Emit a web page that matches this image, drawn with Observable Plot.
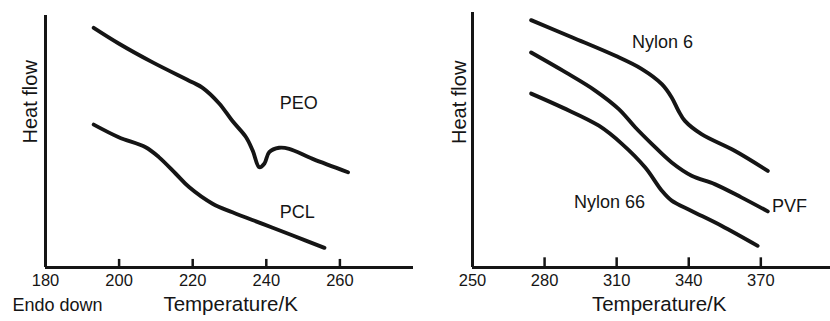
<!DOCTYPE html>
<html>
<head>
<meta charset="utf-8">
<script src="https://cdn.jsdelivr.net/npm/d3@7"></script>
<script src="https://cdn.jsdelivr.net/npm/@observablehq/plot@0.6"></script>
<style>
  html, body { margin: 0; padding: 0; background: #fff; }
  #wrap { position: relative; width: 830px; height: 321px; overflow: hidden; }
  #wrap svg { position: absolute; top: 0; }
</style>
</head>
<body>
<div id="wrap"></div>
<script>
// ---------- Data (temperature in K, heat flow in arbitrary units, endo down) ----------
const peoT    = [193.1, 200, 209, 219.9, 222.6, 227.2, 230.7, 234.5, 236.3, 238.1, 239.5, 240.8, 243.5, 246.2, 252.6, 262.2];
const peoHF   = [95.1, 88.8, 81.5, 73.5, 71.4, 65.1, 58.3, 51.7, 46.4, 39.8, 41.3, 45.8, 47.5, 47.1, 43.1, 37.8];
const pclT    = [193.1, 199.9, 207.2, 210.8, 215.4, 219, 225.4, 230.8, 239, 247.2, 255.8];
const pclHF   = [56.7, 51.7, 47.7, 43.8, 37.2, 31.9, 25.3, 21.9, 17.3, 12.7, 7.8];

const nylon6T   = [274.4, 291.6, 309.5, 320.5, 328.8, 332.9, 335.7, 338.4, 345.3, 359.1, 372.9];
const nylon6HF  = [97.0, 90.2, 83.0, 77.8, 71.9, 66.7, 61.5, 57.5, 52.3, 45.8, 37.9];
const pvfT      = [274.4, 288.8, 301.2, 310.9, 317.8, 324.7, 332.9, 341.2, 350.8, 361.9, 372.9];
const pvfHF     = [84.3, 76.5, 69.3, 62.1, 54.9, 48.4, 41.2, 36.0, 32.7, 27.5, 22.0];
const nylon66T  = [274.4, 287.5, 302.6, 312.3, 321.9, 328.8, 332.9, 341.2, 353.6, 368.7];
const nylon66HF = [68.2, 62.7, 55.6, 48.4, 39.2, 30.1, 26.2, 22.2, 16.4, 8.5];

const leftTickLabels  = [180, 200, 220, 240, 260];
const leftTickMarks   = [200, 220, 240, 260];
const rightTickLabels = [250, 280, 310, 340, 370];
const rightTickMarks  = [280, 310, 340, 370];

const leftCurveLabels  = [{name: "PEO", T: 248.8, hf: 65}, {name: "PCL", T: 248.4, hf: 21.9}];
const rightCurveLabels = [{name: "Nylon 6", T: 329.1, hf: 88.4}, {name: "PVF", T: 381.9, hf: 23.9}, {name: "Nylon 66", T: 307, hf: 25.6}];

const xTitle = "Temperature/K";
const yTitle = "Heat flow";
const note   = "Endo down";

// ---------- Helpers ----------
const zip = (xs, ys, name) => xs.map((x, i) => ({T: x, hf: ys[i], name}));
const FONT = "Liberation Sans, Arial, Helvetica, sans-serif";
const INK = "#151515";

function panel({series, xDomain, tickLabels, tickMarks, curveLabels, mLeft, mTop, mRight, yTitleDx, yTitleDy, xTitleT, withNote, tickLen}) {
  const marks = [];
  for (const s of series) {
    marks.push(Plot.line(s, {x: "T", y: "hf", curve: "catmull-rom", stroke: INK, strokeWidth: 3.9, strokeLinecap: "round", strokeLinejoin: "round"}));
  }
  marks.push(
    Plot.ruleY([0], {stroke: INK, strokeWidth: 3}),
    Plot.ruleX([xDomain[0]], {stroke: INK, strokeWidth: 3, y1: 0, y2: 100}),
    Plot.ruleX(tickMarks, {x: d => d, y1: 0, y2: tickLen, stroke: INK, strokeWidth: 2.5}),
    Plot.axisX({ticks: tickLabels, tickSize: 0, tickPadding: 7, fontSize: 16.5, tickFormat: d => String(d), fill: INK, label: null}),
    Plot.text(curveLabels, {x: "T", y: "hf", text: "name", fontSize: 18, fill: INK}),
    Plot.text([yTitle], {frameAnchor: "left", rotate: -90, dx: yTitleDx, dy: yTitleDy, fontSize: 20, fill: INK}),
    Plot.text([xTitle], {x: () => xTitleT, frameAnchor: "bottom", dy: 43, fontSize: 20.5, fill: INK})
  );
  if (withNote) {
    marks.push(Plot.text([note], {frameAnchor: "bottom-left", textAnchor: "start", dx: -33, dy: 43, fontSize: 18, fill: INK}));
  }
  return Plot.plot({
    width: 415,
    height: 321,
    marginLeft: mLeft,
    marginRight: mRight,
    marginTop: mTop,
    marginBottom: 54,
    style: {fontFamily: FONT, background: "transparent", overflow: "visible"},
    x: {domain: xDomain, axis: null},
    y: {domain: [0, 100], axis: null},
    marks
  });
}

const left = panel({
  series: [zip(peoT, peoHF, "PEO"), zip(pclT, pclHF, "PCL")],
  xDomain: [180, 280],
  tickLabels: leftTickLabels,
  tickMarks: leftTickMarks,
  curveLabels: leftCurveLabels,
  mLeft: 45, mTop: 15, mRight: 2,
  yTitleDx: -15, yTitleDy: 2,
  xTitleT: 230.3,
  withNote: true,
  tickLen: 3.2
});
left.style.left = "0px";

const right = panel({
  series: [zip(nylon6T, nylon6HF, "Nylon 6"), zip(pvfT, pvfHF, "PVF"), zip(nylon66T, nylon66HF, "Nylon 66")],
  xDomain: [250, 399],
  tickLabels: rightTickLabels,
  tickMarks: rightTickMarks,
  curveLabels: rightCurveLabels,
  mLeft: 57, mTop: 12, mRight: 0,
  yTitleDx: -13, yTitleDy: 4,
  xTitleT: 327.7,
  withNote: false,
  tickLen: 3.8
});
right.style.left = "415px";

const wrap = document.getElementById("wrap");
wrap.appendChild(left);
wrap.appendChild(right);
</script>
</body>
</html>
